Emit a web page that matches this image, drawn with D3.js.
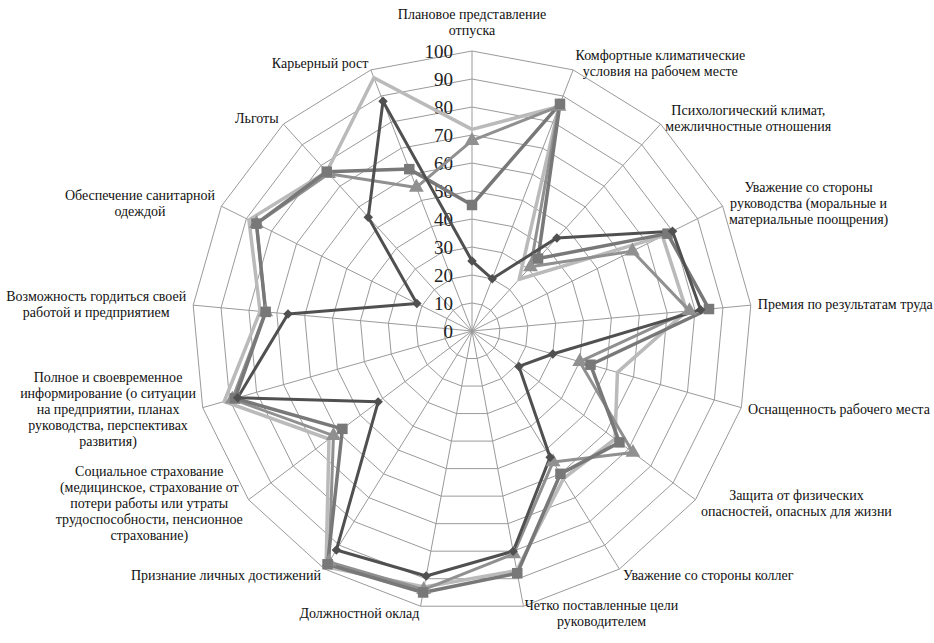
<!DOCTYPE html>
<html>
<head>
<meta charset="utf-8">
<script src="https://cdn.jsdelivr.net/npm/d3@7"></script>
<style>
  body { margin: 0; background: #fff; }
  svg text { font-family: "Liberation Serif", "Times New Roman", serif; }
</style>
</head>
<body>
<div id="chart"></div>
<script>
// категории (оси), каждая строка подписи отдельно
const categories = [
  ["Плановое представление", "отпуска"],
  ["Комфортные климатические", "условия на рабочем месте"],
  ["Психологический климат,", "межличностные отношения"],
  ["Уважение со стороны", "руководства (моральные и", "материальные поощрения)"],
  ["Премия по результатам труда"],
  ["Оснащенность рабочего места"],
  ["Защита от физических", "опасностей, опасных для жизни"],
  ["Уважение со стороны коллег"],
  ["Четко поставленные цели", "руководителем"],
  ["Должностной оклад"],
  ["Признание личных достижений"],
  ["Социальное страхование", "(медицинское, страхование от", "потери работы или утраты", "трудоспособности, пенсионное", "страхование)"],
  ["Полное и своевременное", "информирование (о ситуации", "на предприятии, планах", "руководства, перспективах", "развития)"],
  ["Возможность гордиться своей", "работой и предприятием"],
  ["Обеспечение санитарной", "одеждой"],
  ["Льготы"],
  ["Карьерный рост"]
];

const tickValues = [0, 10, 20, 30, 40, 50, 60, 70, 80, 90, 100];

// значения рядов
const seriesDiamond  = [25, 20, 45, 80, 82, 30, 21, 53, 80, 89, 92, 42, 87, 66, 22, 55, 88];
const seriesSquare   = [45, 87, 35, 78, 85, 44, 66, 60, 88, 95, 98, 58, 88, 74, 86, 77, 62];
const seriesLight    = [72, 86, 25, 76, 77, 54, 64, 62, 87, 93, 99, 64, 92, 76, 89, 77, 97];
const seriesTriangle = [68, 86, 31, 64, 78, 40, 72, 55, 81, 94, 97, 62, 89, 74, 86, 76, 55];

const width = 934, height = 643;
const cx = 472, cy = 331, R = 280;
const n = categories.length;

const svg = d3.select("#chart").append("svg")
  .attr("width", width)
  .attr("height", height);

const r = d3.scaleLinear().domain([0, 100]).range([0, R]);
const angle = d3.scaleLinear().domain([0, n]).range([0, 2 * Math.PI]);

const g = svg.append("g").attr("transform", `translate(${cx},${cy})`);

// сетка
const ring = d3.lineRadial()
  .angle((d, i) => angle(i))
  .radius(d => r(d))
  .curve(d3.curveLinearClosed);

g.append("g").selectAll("path")
  .data(tickValues.filter(v => v > 0))
  .join("path")
  .attr("d", v => ring(d3.range(n).map(() => v)))
  .attr("fill", "none")
  .attr("stroke", "#9a9a9a")
  .attr("stroke-width", 1);

g.append("g").selectAll("line")
  .data(d3.range(n))
  .join("line")
  .attr("x1", 0).attr("y1", 0)
  .attr("x2", i => r(100) * Math.sin(angle(i)))
  .attr("y2", i => -r(100) * Math.cos(angle(i)))
  .attr("stroke", "#9a9a9a")
  .attr("stroke-width", 1);

// подписи шкалы
g.append("g").selectAll("text")
  .data(tickValues)
  .join("text")
  .attr("x", -19)
  .attr("y", v => -r(v))
  .attr("text-anchor", "end")
  .attr("dominant-baseline", "central")
  .attr("font-size", 19)
  .attr("fill", "#222")
  .text(d => d);

// ряды
const series = [
  { values: seriesLight, color: "#bababa", width: 3.5, symbol: null },
  { values: seriesTriangle, color: "#909090", width: 3, symbol: d3.symbolTriangle, size: 95, rotate: 0 },
  { values: seriesSquare, color: "#787878", width: 3.5, symbol: d3.symbolSquare, size: 110, rotate: 0 },
  { values: seriesDiamond, color: "#505050", width: 3, symbol: d3.symbolSquare, size: 45, rotate: 45 }
];

const lineR = d3.lineRadial()
  .angle((d, i) => angle(i))
  .radius(d => r(d))
  .curve(d3.curveLinearClosed);

series.forEach(s => {
  g.append("path")
    .attr("d", lineR(s.values))
    .attr("fill", "none")
    .attr("stroke", s.color)
    .attr("stroke-width", s.width)
    .attr("stroke-linejoin", "round");
});

series.forEach(s => {
  if (!s.symbol) return;
  g.append("g").selectAll("path")
    .data(s.values)
    .join("path")
    .attr("d", d3.symbol().type(s.symbol).size(s.size))
    .attr("transform", (d, i) => {
      const x = r(d) * Math.sin(angle(i)), y = -r(d) * Math.cos(angle(i));
      return `translate(${x},${y}) rotate(${s.rotate})`;
    })
    .attr("fill", s.color);
});

// подписи категорий
const lh = 16;
categories.forEach((lines, i) => {
  const a = angle(i);
  const sn = Math.sin(a), cs = Math.cos(a);
  const lr = R + 7;
  const px = lr * sn, py = -lr * cs;
  const t = g.append("text")
    .attr("font-size", 14)
    .attr("fill", "#111")
    .attr("text-anchor", "middle");
  const spans = lines.map(l => t.append("tspan").text(l));
  const w = d3.max(spans, sp => sp.node().getComputedTextLength());
  const h = lines.length * lh;
  const x = Math.abs(sn) < 0.1 ? px : (sn > 0 ? px + w / 2 : px - w / 2);
  const top = cs > 0.95 ? py - h - 6 : py - h / 2;
  spans.forEach((sp, k) => {
    sp.attr("x", x).attr("y", top + lh * (k + 0.5)).attr("dominant-baseline", "central");
  });
});
</script>
</body>
</html>
